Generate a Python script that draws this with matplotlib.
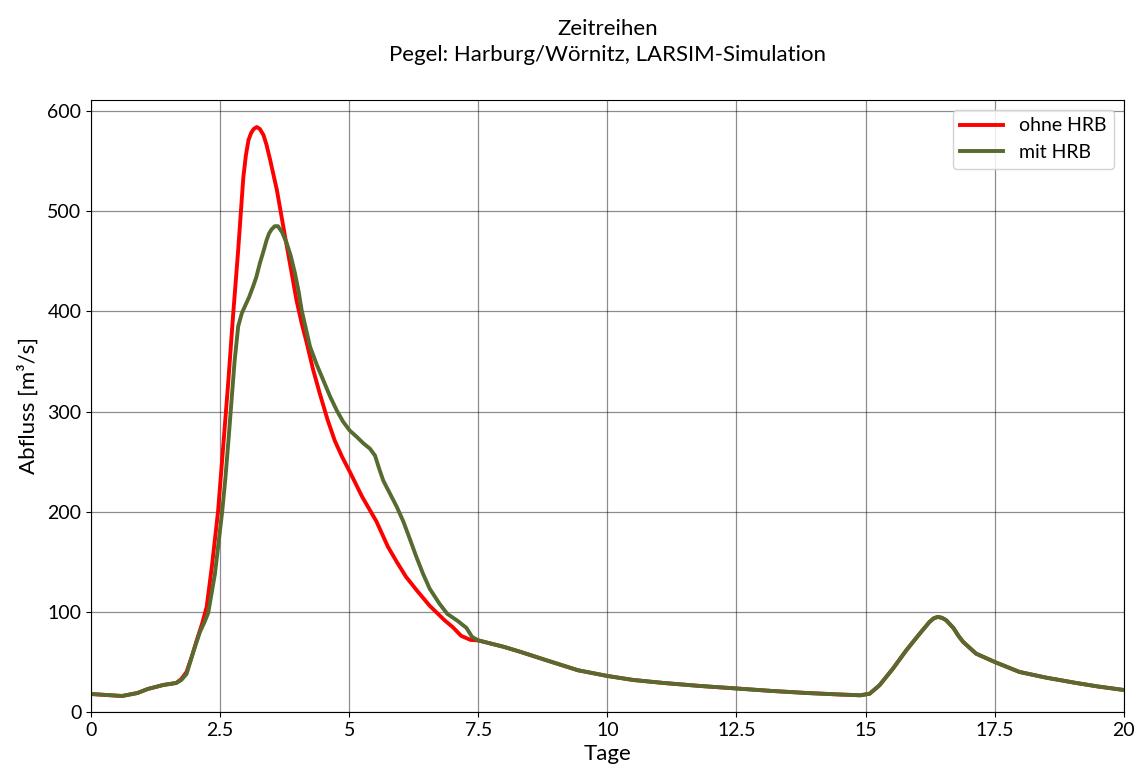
import matplotlib
matplotlib.use("Agg")
import matplotlib.pyplot as plt

# ---- data (Tage, Abfluss m³/s) ----
days_ohne = [0, 0.3, 0.6, 0.9, 1.1, 1.4, 1.65, 1.75, 1.85, 1.95, 2.05, 2.15, 2.24, 2.34,
             2.46, 2.56, 2.66, 2.75, 2.85, 2.95, 3.0, 3.05, 3.1, 3.15, 3.21, 3.27, 3.34,
             3.4, 3.47, 3.6, 3.76, 3.88, 3.98, 4.08, 4.18, 4.3, 4.43, 4.58, 4.72, 4.86,
             5.01, 5.25, 5.53, 5.75, 5.92, 6.1, 6.3, 6.56, 6.86, 7.0, 7.17, 7.35]
q_ohne = [18, 17, 16, 19, 23, 27, 29, 33, 40, 55, 72, 88, 105, 145,
          200, 265, 331, 395, 461, 534, 556, 571, 578, 582, 584, 582, 576,
          566, 551, 521, 474, 440, 411, 388, 368, 342, 318, 292, 271, 255,
          240, 215, 190, 165, 150, 135, 122, 106, 91, 85, 76, 72]

days_mit = [0, 0.3, 0.6, 0.9, 1.1, 1.4, 1.65, 1.75, 1.85, 1.98, 2.11, 2.2, 2.27, 2.4,
            2.54, 2.6, 2.66, 2.72, 2.78, 2.85, 2.92, 2.98, 3.06, 3.14, 3.2, 3.27, 3.34,
            3.4, 3.45, 3.5, 3.56, 3.62, 3.7, 3.79, 3.87, 3.95, 4.02, 4.08, 4.16, 4.24,
            4.37, 4.5, 4.63, 4.76, 4.88, 5.01, 5.14, 5.28, 5.4, 5.5, 5.58, 5.66, 5.8,
            5.92, 6.05, 6.18, 6.3, 6.43, 6.56, 6.75, 6.9, 7.1, 7.27, 7.38]
q_mit = [18, 17, 16, 19, 23, 27, 29, 32, 38, 60, 80, 90, 99, 138,
         200, 232, 270, 310, 350, 385, 398, 405, 414, 425, 434, 448, 460,
         471, 478, 482, 485, 485, 479, 468, 455, 438, 420, 401, 383, 365,
         347, 331, 315, 301, 290, 281, 275, 268, 263, 256, 243, 231, 217,
         205, 190, 172, 155, 138, 123, 108, 98, 91, 84, 75]

# common recession / second event (both series identical)
days_tail = [7.5, 8.0, 8.32, 8.8, 9.43, 10.0, 10.5, 11.09, 11.8, 12.5, 13.2, 13.86, 14.5,
             14.9, 15.08, 15.27, 15.53, 15.79, 16.05, 16.24, 16.32, 16.4, 16.48, 16.56,
             16.7, 16.8, 16.89, 17.14, 17.5, 17.98, 18.5, 19.08, 19.5, 20.0]
q_tail = [71.5, 65, 60, 52, 41.7, 36, 32, 29, 26, 23.5, 21, 19, 17.5,
          16.7, 18.3, 26.7, 43.3, 61.7, 78.3, 90, 93.5, 95, 94, 91.7,
          84, 76, 70, 58.3, 50, 40, 34.3, 29, 25.5, 22]

labels = ["ohne HRB", "mit HRB"]
colors = ["#ff0000", "#556b2f"]
title = "Zeitreihen\nPegel: Harburg/Wörnitz, LARSIM-Simulation"

plt.rcParams['font.family'] = ['Lato', 'DejaVu Sans']

fig = plt.figure(figsize=(11.42, 7.78), dpi=100)
ax = fig.add_axes([0.0797, 0.0848, 0.9043, 0.7867])

ax.plot(days_ohne + days_tail, q_ohne + q_tail, color=colors[0], lw=2.8,
        label=labels[0], solid_joinstyle="round")
ax.plot(days_mit + days_tail, q_mit + q_tail, color=colors[1], lw=2.8,
        label=labels[1], solid_joinstyle="round")

ax.set_xlim(0, 20)
ax.set_ylim(0, 611)
ax.set_xticks([0, 2.5, 5, 7.5, 10, 12.5, 15, 17.5, 20])
ax.set_xticklabels(["0", "2.5", "5", "7.5", "10", "12.5", "15", "17.5", "20"])
ax.set_yticks([0, 100, 200, 300, 400, 500, 600])
ax.tick_params(labelsize=14)
ax.grid(True, color="black", alpha=0.45, lw=0.9)
ax.set_axisbelow(True)
ax.set_xlabel("Tage", fontsize=16, labelpad=4)
ax.set_ylabel("Abfluss [m³/s]", fontsize=16, labelpad=6)
ax.set_title(title, fontsize=16, pad=28, linespacing=1.35)
ax.legend(loc="upper right", fontsize=14, framealpha=0.85, handlelength=2.2)

fig.savefig("out.png", dpi=100)
